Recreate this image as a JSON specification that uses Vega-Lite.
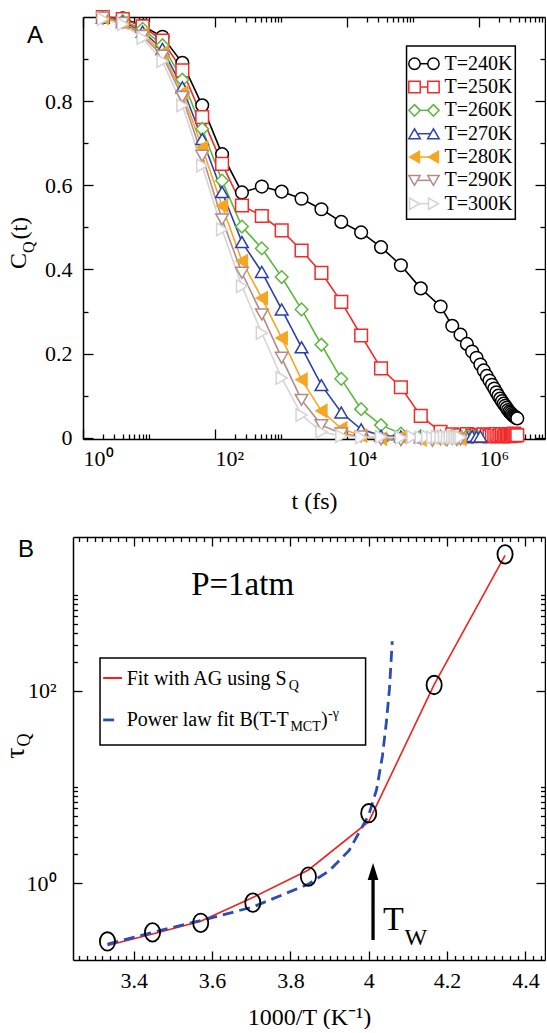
{
  "$schema": "https://vega.github.io/schema/vega-lite/v6.json",
  "padding": {"left": 2, "top": 7, "right": 0, "bottom": 0},
  "spacing": 23,
  "config": {"view": {"stroke": null}, "font": "Liberation Serif"},
  "datasets": {
    "cq": [
      {"T":"T=240K","t":2,"C":1.0},{"T":"T=240K","t":4,"C":0.997},{"T":"T=240K","t":8,"C":0.979},{"T":"T=240K","t":16,"C":0.953},{"T":"T=240K","t":32,"C":0.891},{"T":"T=240K","t":64,"C":0.79},{"T":"T=240K","t":128,"C":0.674},{"T":"T=240K","t":256,"C":0.583},{"T":"T=240K","t":512,"C":0.597},{"T":"T=240K","t":1024,"C":0.585},{"T":"T=240K","t":2048,"C":0.568},{"T":"T=240K","t":4096,"C":0.543},{"T":"T=240K","t":8192,"C":0.513},{"T":"T=240K","t":16384,"C":0.488},{"T":"T=240K","t":32768,"C":0.453},{"T":"T=240K","t":65536,"C":0.41},{"T":"T=240K","t":131072,"C":0.355},{"T":"T=240K","t":262144,"C":0.312},{"T":"T=240K","t":393216,"C":0.266},{"T":"T=240K","t":524288,"C":0.245},{"T":"T=240K","t":655360,"C":0.223},{"T":"T=240K","t":786432,"C":0.205},{"T":"T=240K","t":917504,"C":0.19},{"T":"T=240K","t":1048576,"C":0.174},{"T":"T=240K","t":1179648,"C":0.16},{"T":"T=240K","t":1310720,"C":0.147},{"T":"T=240K","t":1441792,"C":0.136},{"T":"T=240K","t":1572864,"C":0.126},{"T":"T=240K","t":1703936,"C":0.117},{"T":"T=240K","t":1835008,"C":0.108},{"T":"T=240K","t":1966080,"C":0.1},{"T":"T=240K","t":2097152,"C":0.093},{"T":"T=240K","t":2228224,"C":0.087},{"T":"T=240K","t":2359296,"C":0.081},{"T":"T=240K","t":2490368,"C":0.076},{"T":"T=240K","t":2621440,"C":0.071},{"T":"T=240K","t":2752512,"C":0.066},{"T":"T=240K","t":2883584,"C":0.062},{"T":"T=240K","t":3014656,"C":0.059},{"T":"T=240K","t":3145728,"C":0.056},{"T":"T=240K","t":3276800,"C":0.053},{"T":"T=240K","t":3407872,"C":0.051},{"T":"T=240K","t":3538944,"C":0.049},{"T":"T=240K","t":3670016,"C":0.047},{"T":"T=240K","t":3801088,"C":0.046},
      {"T":"T=250K","t":2,"C":1.0},{"T":"T=250K","t":4,"C":0.995},{"T":"T=250K","t":8,"C":0.978},{"T":"T=250K","t":16,"C":0.944},{"T":"T=250K","t":32,"C":0.873},{"T":"T=250K","t":64,"C":0.762},{"T":"T=250K","t":128,"C":0.651},{"T":"T=250K","t":256,"C":0.552},{"T":"T=250K","t":512,"C":0.527},{"T":"T=250K","t":1024,"C":0.493},{"T":"T=250K","t":2048,"C":0.445},{"T":"T=250K","t":4096,"C":0.392},{"T":"T=250K","t":8192,"C":0.323},{"T":"T=250K","t":16384,"C":0.243},{"T":"T=250K","t":32768,"C":0.165},{"T":"T=250K","t":65536,"C":0.12},{"T":"T=250K","t":131072,"C":0.052},{"T":"T=250K","t":262144,"C":0.014},{"T":"T=250K","t":393216,"C":0.008},{"T":"T=250K","t":524288,"C":0.006},{"T":"T=250K","t":655360,"C":0.009},{"T":"T=250K","t":786432,"C":0.005},{"T":"T=250K","t":917504,"C":0.007},{"T":"T=250K","t":1048576,"C":0.004},{"T":"T=250K","t":1179648,"C":0.008},{"T":"T=250K","t":1310720,"C":0.006},{"T":"T=250K","t":1441792,"C":0.003},{"T":"T=250K","t":1572864,"C":0.007},{"T":"T=250K","t":1703936,"C":0.005},{"T":"T=250K","t":1835008,"C":0.009},{"T":"T=250K","t":1966080,"C":0.004},{"T":"T=250K","t":2097152,"C":0.006},{"T":"T=250K","t":2228224,"C":0.008},{"T":"T=250K","t":2359296,"C":0.003},{"T":"T=250K","t":2490368,"C":0.006},{"T":"T=250K","t":2621440,"C":0.009},{"T":"T=250K","t":2752512,"C":0.005},{"T":"T=250K","t":2883584,"C":0.007},{"T":"T=250K","t":3014656,"C":0.004},{"T":"T=250K","t":3145728,"C":0.008},{"T":"T=250K","t":3276800,"C":0.006},{"T":"T=250K","t":3407872,"C":0.01},{"T":"T=250K","t":3538944,"C":0.005},{"T":"T=250K","t":3670016,"C":0.007},{"T":"T=250K","t":3801088,"C":0.006},
      {"T":"T=260K","t":2,"C":0.998},{"T":"T=260K","t":4,"C":0.99},{"T":"T=260K","t":8,"C":0.972},{"T":"T=260K","t":16,"C":0.933},{"T":"T=260K","t":32,"C":0.851},{"T":"T=260K","t":64,"C":0.734},{"T":"T=260K","t":128,"C":0.611},{"T":"T=260K","t":256,"C":0.502},{"T":"T=260K","t":512,"C":0.45},{"T":"T=260K","t":1024,"C":0.382},{"T":"T=260K","t":2048,"C":0.305},{"T":"T=260K","t":4096,"C":0.221},{"T":"T=260K","t":8192,"C":0.14},{"T":"T=260K","t":16384,"C":0.068},{"T":"T=260K","t":32768,"C":0.03},{"T":"T=260K","t":65536,"C":0.01},{"T":"T=260K","t":131072,"C":0.004},{"T":"T=260K","t":262144,"C":0.002},{"T":"T=260K","t":393216,"C":0.005},{"T":"T=260K","t":524288,"C":0.001},{"T":"T=260K","t":655360,"C":0.004},{"T":"T=260K","t":786432,"C":0.002},{"T":"T=260K","t":917504,"C":0.003},
      {"T":"T=270K","t":2,"C":0.998},{"T":"T=270K","t":4,"C":0.988},{"T":"T=270K","t":8,"C":0.965},{"T":"T=270K","t":16,"C":0.924},{"T":"T=270K","t":32,"C":0.833},{"T":"T=270K","t":64,"C":0.71},{"T":"T=270K","t":128,"C":0.584},{"T":"T=270K","t":256,"C":0.465},{"T":"T=270K","t":512,"C":0.394},{"T":"T=270K","t":1024,"C":0.305},{"T":"T=270K","t":2048,"C":0.215},{"T":"T=270K","t":4096,"C":0.125},{"T":"T=270K","t":8192,"C":0.06},{"T":"T=270K","t":16384,"C":0.02},{"T":"T=270K","t":32768,"C":0.005},{"T":"T=270K","t":65536,"C":0.003},{"T":"T=270K","t":131072,"C":0.001},{"T":"T=270K","t":262144,"C":0.004},{"T":"T=270K","t":393216,"C":0.002},{"T":"T=270K","t":524288,"C":0.005},{"T":"T=270K","t":655360,"C":0.001},{"T":"T=270K","t":786432,"C":0.004},{"T":"T=270K","t":917504,"C":0.002},{"T":"T=270K","t":1048576,"C":0.003},
      {"T":"T=280K","t":2,"C":0.998},{"T":"T=280K","t":4,"C":0.987},{"T":"T=280K","t":8,"C":0.96},{"T":"T=280K","t":16,"C":0.915},{"T":"T=280K","t":32,"C":0.82},{"T":"T=280K","t":64,"C":0.69},{"T":"T=280K","t":128,"C":0.551},{"T":"T=280K","t":256,"C":0.42},{"T":"T=280K","t":512,"C":0.332},{"T":"T=280K","t":1024,"C":0.237},{"T":"T=280K","t":2048,"C":0.138},{"T":"T=280K","t":4096,"C":0.064},{"T":"T=280K","t":8192,"C":0.022},{"T":"T=280K","t":16384,"C":0.005},{"T":"T=280K","t":32768,"C":-0.002},{"T":"T=280K","t":65536,"C":0.002},{"T":"T=280K","t":131072,"C":-0.004},{"T":"T=280K","t":196608,"C":0.001},{"T":"T=280K","t":262144,"C":-0.003},{"T":"T=280K","t":327680,"C":0.002},{"T":"T=280K","t":393216,"C":-0.002},{"T":"T=280K","t":458752,"C":0.001},{"T":"T=280K","t":524288,"C":-0.003},
      {"T":"T=290K","t":2,"C":0.998},{"T":"T=290K","t":4,"C":0.986},{"T":"T=290K","t":8,"C":0.955},{"T":"T=290K","t":16,"C":0.908},{"T":"T=290K","t":32,"C":0.81},{"T":"T=290K","t":64,"C":0.67},{"T":"T=290K","t":128,"C":0.519},{"T":"T=290K","t":256,"C":0.392},{"T":"T=290K","t":512,"C":0.293},{"T":"T=290K","t":1024,"C":0.19},{"T":"T=290K","t":2048,"C":0.09},{"T":"T=290K","t":4096,"C":0.03},{"T":"T=290K","t":8192,"C":0.01},{"T":"T=290K","t":16384,"C":0.003},{"T":"T=290K","t":32768,"C":-0.004},{"T":"T=290K","t":65536,"C":-0.006},{"T":"T=290K","t":131072,"C":-0.003},{"T":"T=290K","t":196608,"C":-0.007},{"T":"T=290K","t":262144,"C":-0.004},{"T":"T=290K","t":327680,"C":-0.006},{"T":"T=290K","t":393216,"C":-0.003},{"T":"T=290K","t":458752,"C":-0.005},{"T":"T=290K","t":524288,"C":-0.004},
      {"T":"T=300K","t":2,"C":0.995},{"T":"T=300K","t":4,"C":0.983},{"T":"T=300K","t":8,"C":0.95},{"T":"T=300K","t":16,"C":0.895},{"T":"T=300K","t":32,"C":0.79},{"T":"T=300K","t":64,"C":0.647},{"T":"T=300K","t":128,"C":0.495},{"T":"T=300K","t":256,"C":0.36},{"T":"T=300K","t":512,"C":0.249},{"T":"T=300K","t":1024,"C":0.142},{"T":"T=300K","t":2048,"C":0.054},{"T":"T=300K","t":4096,"C":0.014},{"T":"T=300K","t":8192,"C":0.004},{"T":"T=300K","t":16384,"C":0.001},{"T":"T=300K","t":32768,"C":0.002},{"T":"T=300K","t":65536,"C":0.0},{"T":"T=300K","t":98304,"C":0.002},{"T":"T=300K","t":131072,"C":0.001},{"T":"T=300K","t":163840,"C":0.003},{"T":"T=300K","t":196608,"C":0.0},{"T":"T=300K","t":229376,"C":0.002},{"T":"T=300K","t":262144,"C":0.001},{"T":"T=300K","t":294912,"C":0.003},{"T":"T=300K","t":327680,"C":0.0},{"T":"T=300K","t":360448,"C":0.002},{"T":"T=300K","t":393216,"C":0.001},{"T":"T=300K","t":425984,"C":0.002},{"T":"T=300K","t":458752,"C":0.0},{"T":"T=300K","t":491520,"C":0.002},{"T":"T=300K","t":524288,"C":0.001}
    ],
    "leg": [{"T":"T=240K"},{"T":"T=250K"},{"T":"T=260K"},{"T":"T=270K"},{"T":"T=280K"},{"T":"T=290K"},{"T":"T=300K"}],
    "tau": [
      {"x":3.333,"tau":0.247},{"x":3.448,"tau":0.307},{"x":3.571,"tau":0.386},{"x":3.704,"tau":0.626},{"x":3.846,"tau":1.17},{"x":4.0,"tau":5.33},{"x":4.167,"tau":115},{"x":4.348,"tau":2630}
    ],
    "ag": [
      {"x":3.333,"tau":0.224},{"x":3.448,"tau":0.295},{"x":3.571,"tau":0.401},{"x":3.704,"tau":0.707},{"x":3.846,"tau":1.37},{"x":4.0,"tau":4.35},{"x":4.167,"tau":116},{"x":4.348,"tau":2570}
    ],
    "pl": [
      {"x":3.333,"tau":0.232},{"x":3.448,"tau":0.307},{"x":3.571,"tau":0.408},{"x":3.704,"tau":0.564},{"x":3.846,"tau":0.976},{"x":3.9,"tau":1.35},{"x":3.95,"tau":2.19},{"x":4.0,"tau":5.11},{"x":4.02,"tau":9.37},{"x":4.035,"tau":21},{"x":4.045,"tau":47.2},{"x":4.053,"tau":106},{"x":4.06,"tau":328}
    ]
  },
  "vconcat": [
    {
      "width": 472,
      "height": 422,
      "resolve": {"scale": {"y": "independent"}, "axis": {"x": "independent", "y": "independent"}},
      "layer": [
        {
          "data": {"name": "cq"},
          "resolve": {"scale": {"x": "shared", "y": "shared"}, "axis": {"x": "independent", "y": "independent"}},
          "layer": [
            {
              "mark": {"type": "line", "strokeWidth": 1.6},
              "encoding": {
                "x": {"field": "t", "type": "quantitative", "scale": {"type": "log", "domain": [1, 10000000], "range": [10, 472], "nice": false},
                  "axis": {"orient": "bottom", "values": [1, 100, 10000, 1000000], "labelExpr": "datum.value == 1 ? '10⁰' : datum.value == 100 ? '10²' : datum.value == 10000 ? '10⁴' : '10⁶'", "labelAlign": "left", "labelDx": -11, "labelFlush": false, "labelOverlap": false, "ticks": false, "grid": false, "domain": true, "domainColor": "black", "domainWidth": 1.5, "labelFont": "Liberation Serif", "labelFontSize": 22, "labelColor": "black", "labelPadding": 9, "title": "t (fs)", "titleFont": "Liberation Serif", "titleFontSize": 24, "titleFontWeight": "normal", "titleColor": "black", "titlePadding": 20}},
                "y": {"field": "C", "type": "quantitative", "scale": {"domain": [-0.003, 1], "nice": false, "zero": false},
                  "axis": {"orient": "left", "offset": -10, "values": [0, 0.2, 0.4, 0.6, 0.8], "format": ".1~f", "labelFlush": false, "ticks": false, "grid": false, "domain": true, "domainColor": "black", "domainWidth": 1.5, "labelFont": "Liberation Serif", "labelFontSize": 22, "labelColor": "black", "labelPadding": 11, "title": null}},
                "stroke": {"field": "T", "type": "nominal", "scale": {"domain": ["T=240K","T=250K","T=260K","T=270K","T=280K","T=290K","T=300K"], "range": ["#000000","#f22a2a","#5cb83e","#2b40a8","#f5a623","#b48a86","#d4d4d4"]}, "legend": null}
              }
            },
            {
              "mark": {"type": "point", "strokeWidth": 1.5, "size": 160, "opacity": 1},
              "encoding": {
                "x": {"field": "t", "type": "quantitative", "axis": null},
                "y": {"field": "C", "type": "quantitative", "axis": null},
                "shape": {"field": "T", "type": "nominal", "scale": {"domain": ["T=240K","T=250K","T=260K","T=270K","T=280K","T=290K","T=300K"], "range": ["circle","square","diamond","triangle-up","triangle-left","triangle-down","triangle-right"]}, "legend": null},
                "stroke": {"field": "T", "type": "nominal", "legend": null},
                "fill": {"field": "T", "type": "nominal", "scale": {"domain": ["T=240K","T=250K","T=260K","T=270K","T=280K","T=290K","T=300K"], "range": ["#ffffff","#ffffff","#ffffff","#ffffff","#f5a623","#ffffff","#ffffff"]}, "legend": null}
              }
            },
            {
              "mark": {"type": "point", "opacity": 0},
              "encoding": {
                "x": {"field": "t", "type": "quantitative", "axis": {"orient": "bottom", "values": [1, 100, 10000, 1000000], "labels": false, "domain": false, "grid": false, "ticks": true, "tickSize": -10, "tickColor": "black", "tickWidth": 1.3, "title": null}},
                "y": {"field": "C", "type": "quantitative", "axis": {"orient": "left", "offset": -10, "values": [0, 0.2, 0.4, 0.6, 0.8], "labels": false, "domain": false, "grid": false, "ticks": true, "tickSize": -10, "tickColor": "black", "tickWidth": 1.3, "title": null}}
              }
            },
            {
              "mark": {"type": "point", "opacity": 0},
              "encoding": {
                "x": {"field": "t", "type": "quantitative", "axis": {"orient": "bottom", "values": [2,3,4,5,6,7,8,9,10,200,300,400,500,600,700,800,900,1000,20000,30000,40000,50000,60000,70000,80000,90000,100000,2000000,3000000,4000000,5000000,6000000,7000000,8000000,9000000], "labels": false, "domain": false, "grid": false, "ticks": true, "tickSize": -5, "tickColor": "black", "tickWidth": 1.3, "title": null}},
                "y": {"field": "C", "type": "quantitative", "axis": {"orient": "left", "offset": -10, "values": [0.1, 0.3, 0.5, 0.7, 0.9], "labels": false, "domain": false, "grid": false, "ticks": true, "tickSize": -5, "tickColor": "black", "tickWidth": 1.3, "title": null}}
              }
            },
            {
              "mark": {"type": "point", "opacity": 0},
              "encoding": {
                "x": {"field": "t", "type": "quantitative", "axis": {"orient": "top", "values": [1, 100, 10000, 1000000], "labels": false, "domain": true, "domainColor": "black", "domainWidth": 1.5, "grid": false, "ticks": true, "tickSize": -10, "tickColor": "black", "tickWidth": 1.3, "title": null}},
                "y": {"field": "C", "type": "quantitative", "axis": {"orient": "right", "values": [0, 0.2, 0.4, 0.6, 0.8], "labels": false, "domain": true, "domainColor": "black", "domainWidth": 1.5, "grid": false, "ticks": true, "tickSize": -10, "tickColor": "black", "tickWidth": 1.3, "title": null}}
              }
            },
            {
              "mark": {"type": "point", "opacity": 0},
              "encoding": {
                "x": {"field": "t", "type": "quantitative", "axis": {"orient": "top", "values": [2,3,4,5,6,7,8,9,10,200,300,400,500,600,700,800,900,1000,20000,30000,40000,50000,60000,70000,80000,90000,100000,2000000,3000000,4000000,5000000,6000000,7000000,8000000,9000000], "labels": false, "domain": false, "grid": false, "ticks": true, "tickSize": -5, "tickColor": "black", "tickWidth": 1.3, "title": null}},
                "y": {"field": "C", "type": "quantitative", "axis": {"orient": "right", "values": [0.1, 0.3, 0.5, 0.7, 0.9], "labels": false, "domain": false, "grid": false, "ticks": true, "tickSize": -5, "tickColor": "black", "tickWidth": 1.3, "title": null}}
              }
            },
            {
              "data": {"values": [{}]},
              "mark": {"type": "rect", "fill": "white", "stroke": "black", "strokeWidth": 1.5},
              "encoding": {"x": {"datum": 79800, "type": "quantitative", "axis": null}, "x2": {"datum": 3550000}, "y": {"datum": 0.931, "type": "quantitative", "axis": null}, "y2": {"datum": 0.5195}}
            },
            {
              "data": {"values": [{}]},
              "mark": {"type": "text", "text": "A", "font": "Liberation Sans", "fontSize": 24, "align": "center", "baseline": "middle", "color": "black"},
              "encoding": {"x": {"datum": 0.1875, "type": "quantitative", "axis": null}, "y": {"datum": 0.955, "type": "quantitative", "axis": null}}
            },
            {
              "data": {"values": [{}]},
              "mark": {"type": "text", "text": "C", "font": "Liberation Serif", "fontSize": 24, "angle": 270, "align": "center", "baseline": "middle", "color": "black"},
              "encoding": {"x": {"datum": 0.107, "type": "quantitative", "axis": null}, "y": {"datum": 0.42, "type": "quantitative", "axis": null}}
            },
            {
              "data": {"values": [{}]},
              "mark": {"type": "text", "text": "Q", "font": "Liberation Serif", "fontSize": 16, "angle": 270, "align": "center", "baseline": "middle", "color": "black"},
              "encoding": {"x": {"datum": 0.152, "type": "quantitative", "axis": null}, "y": {"datum": 0.453, "type": "quantitative", "axis": null}}
            },
            {
              "data": {"values": [{}]},
              "mark": {"type": "text", "text": "(t)", "font": "Liberation Serif", "fontSize": 24, "angle": 270, "align": "center", "baseline": "middle", "color": "black"},
              "encoding": {"x": {"datum": 0.111, "type": "quantitative", "axis": null}, "y": {"datum": 0.498, "type": "quantitative", "axis": null}}
            }
          ]
        },
        {
          "data": {"name": "leg"},
          "encoding": {
            "y": {"field": "T", "type": "nominal", "scale": {"type": "point", "domain": ["T=240K","T=250K","T=260K","T=270K","T=280K","T=290K","T=300K"], "range": [46.7, 186.7], "padding": 0}, "axis": null}
          },
          "layer": [
            {
              "mark": {"type": "point", "shape": "M-1,0L1,0", "size": 361, "strokeWidth": 1.5, "filled": false, "opacity": 1},
              "encoding": {
                "x": {"datum": 146700, "type": "quantitative", "axis": null},
                "stroke": {"field": "T", "type": "nominal", "legend": null}
              }
            },
            {
              "mark": {"type": "point", "strokeWidth": 1.5, "size": 130, "opacity": 1},
              "encoding": {
                "x": {"datum": 105400, "type": "quantitative", "axis": null},
                "shape": {"field": "T", "type": "nominal", "legend": null},
                "stroke": {"field": "T", "type": "nominal", "legend": null},
                "fill": {"field": "T", "type": "nominal", "legend": null}
              }
            },
            {
              "mark": {"type": "point", "strokeWidth": 1.5, "size": 130, "opacity": 1},
              "encoding": {
                "x": {"datum": 204000, "type": "quantitative", "axis": null},
                "shape": {"field": "T", "type": "nominal", "legend": null},
                "stroke": {"field": "T", "type": "nominal", "legend": null},
                "fill": {"field": "T", "type": "nominal", "legend": null}
              }
            },
            {
              "mark": {"type": "text", "font": "Liberation Serif", "fontSize": 20, "align": "left", "baseline": "middle", "color": "black"},
              "encoding": {
                "x": {"datum": 299900, "type": "quantitative", "axis": null},
                "text": {"field": "T", "type": "nominal"}
              }
            }
          ]
        }
      ]
    },
    {
      "width": 472,
      "height": 423,
      "resolve": {"scale": {"x": "shared", "y": "shared"}, "axis": {"x": "independent", "y": "independent"}},
      "layer": [
        {
          "data": {"name": "ag"},
          "mark": {"type": "line", "color": "#f22020", "strokeWidth": 1.6},
          "encoding": {
            "x": {"field": "x", "type": "quantitative", "scale": {"domain": [3.245, 4.45], "nice": false, "zero": false},
              "axis": {"orient": "bottom", "values": [3.4, 3.6, 3.8, 4, 4.2, 4.4], "format": "~g", "labelFlush": false, "ticks": false, "grid": false, "domain": true, "domainColor": "black", "domainWidth": 1.5, "labelFont": "Liberation Serif", "labelFontSize": 22, "labelColor": "black", "labelPadding": 10, "title": "1000/T (K⁻¹)", "titleFont": "Liberation Serif", "titleFontSize": 24, "titleFontWeight": "normal", "titleColor": "black", "titlePadding": 14}},
            "y": {"field": "tau", "type": "quantitative", "scale": {"type": "log", "domain": [0.1585, 3981], "nice": false},
              "axis": {"orient": "left", "values": [1, 100], "labelExpr": "datum.value == 1 ? '10⁰' : '10²'", "labelFlush": false, "ticks": false, "grid": false, "domain": true, "domainColor": "black", "domainWidth": 1.5, "labelFont": "Liberation Serif", "labelFontSize": 22, "labelColor": "black", "labelPadding": 17, "title": null}}
          }
        },
        {
          "data": {"name": "pl"},
          "mark": {"type": "line", "color": "#2b4db3", "strokeWidth": 2.8, "strokeDash": [11, 6]},
          "encoding": {
            "x": {"field": "x", "type": "quantitative", "axis": null},
            "y": {"field": "tau", "type": "quantitative", "axis": null}
          }
        },
        {
          "data": {"name": "tau"},
          "mark": {"type": "point", "shape": "M0,-1A0.82,1 0 1,1 0,1A0.82,1 0 1,1 0,-1Z", "size": 342, "filled": false, "color": "black", "strokeWidth": 1.8, "opacity": 1},
          "encoding": {
            "x": {"field": "x", "type": "quantitative", "axis": null},
            "y": {"field": "tau", "type": "quantitative", "axis": null}
          }
        },
        {
          "data": {"name": "ag"},
          "mark": {"type": "point", "opacity": 0},
          "encoding": {
            "x": {"field": "x", "type": "quantitative", "axis": {"orient": "bottom", "values": [3.4, 3.6, 3.8, 4, 4.2, 4.4], "labels": false, "domain": false, "grid": false, "ticks": true, "tickSize": -9, "tickColor": "black", "tickWidth": 1.3, "title": null}},
            "y": {"field": "tau", "type": "quantitative", "axis": {"orient": "left", "values": [1, 100], "labels": false, "domain": false, "grid": false, "ticks": true, "tickSize": -9, "tickColor": "black", "tickWidth": 1.3, "title": null}}
          }
        },
        {
          "data": {"name": "ag"},
          "mark": {"type": "point", "opacity": 0},
          "encoding": {
            "x": {"field": "x", "type": "quantitative", "axis": {"orient": "bottom", "values": [3.26,3.28,3.3,3.32,3.34,3.36,3.38,3.42,3.44,3.46,3.48,3.5,3.52,3.54,3.56,3.58,3.62,3.64,3.66,3.68,3.7,3.72,3.74,3.76,3.78,3.82,3.84,3.86,3.88,3.9,3.92,3.94,3.96,3.98,4.02,4.04,4.06,4.08,4.1,4.12,4.14,4.16,4.18,4.22,4.24,4.26,4.28,4.3,4.32,4.34,4.36,4.38,4.42,4.44], "labels": false, "domain": false, "grid": false, "ticks": true, "tickSize": -4.5, "tickColor": "black", "tickWidth": 1.3, "title": null}},
            "y": {"field": "tau", "type": "quantitative", "axis": {"orient": "left", "values": [2,3,4,5,6,7,8,9,10,200,300,400,500,600,700,800,900,1000], "labels": false, "domain": false, "grid": false, "ticks": true, "tickSize": -4.5, "tickColor": "black", "tickWidth": 1.3, "title": null}}
          }
        },
        {
          "data": {"name": "ag"},
          "mark": {"type": "point", "opacity": 0},
          "encoding": {
            "x": {"field": "x", "type": "quantitative", "axis": {"orient": "top", "values": [3.4, 3.6, 3.8, 4, 4.2, 4.4], "labels": false, "domain": true, "domainColor": "black", "domainWidth": 1.5, "grid": false, "ticks": true, "tickSize": -9, "tickColor": "black", "tickWidth": 1.3, "title": null}},
            "y": {"field": "tau", "type": "quantitative", "axis": {"orient": "right", "values": [1, 100], "labels": false, "domain": true, "domainColor": "black", "domainWidth": 1.5, "grid": false, "ticks": true, "tickSize": -9, "tickColor": "black", "tickWidth": 1.3, "title": null}}
          }
        },
        {
          "data": {"name": "ag"},
          "mark": {"type": "point", "opacity": 0},
          "encoding": {
            "x": {"field": "x", "type": "quantitative", "axis": {"orient": "top", "values": [3.26,3.28,3.3,3.32,3.34,3.36,3.38,3.42,3.44,3.46,3.48,3.5,3.52,3.54,3.56,3.58,3.62,3.64,3.66,3.68,3.7,3.72,3.74,3.76,3.78,3.82,3.84,3.86,3.88,3.9,3.92,3.94,3.96,3.98,4.02,4.04,4.06,4.08,4.1,4.12,4.14,4.16,4.18,4.22,4.24,4.26,4.28,4.3,4.32,4.34,4.36,4.38,4.42,4.44], "labels": false, "domain": false, "grid": false, "ticks": true, "tickSize": -4.5, "tickColor": "black", "tickWidth": 1.3, "title": null}},
            "y": {"field": "tau", "type": "quantitative", "axis": {"orient": "right", "values": [2,3,4,5,6,7,8,9,10,200,300,400,500,600,700,800,900,1000], "labels": false, "domain": false, "grid": false, "ticks": true, "tickSize": -4.5, "tickColor": "black", "tickWidth": 1.3, "title": null}}
          }
        },
        {
          "data": {"values": [{}]},
          "mark": {"type": "rule", "color": "black", "strokeWidth": 3.3},
          "encoding": {"x": {"datum": 4.011, "type": "quantitative", "axis": null}, "y": {"datum": 0.256, "type": "quantitative", "axis": null}, "y2": {"datum": 1.3}}
        },
        {
          "data": {"values": [{}]},
          "mark": {"type": "point", "shape": "M0,-1L0.63,1L-0.63,1Z", "size": 289, "filled": true, "color": "black", "opacity": 1},
          "encoding": {"x": {"datum": 4.011, "type": "quantitative", "axis": null}, "y": {"datum": 1.32, "type": "quantitative", "axis": null}}
        },
        {
          "data": {"values": [{}]},
          "mark": {"type": "rect", "fill": "white", "stroke": "black", "strokeWidth": 1.5},
          "encoding": {"x": {"datum": 3.314, "type": "quantitative", "axis": null}, "x2": {"datum": 3.992}, "y": {"datum": 219, "type": "quantitative", "axis": null}, "y2": {"datum": 27.3}}
        },
        {
          "data": {"values": [{}]},
          "mark": {"type": "rule", "color": "#f22020", "strokeWidth": 2},
          "encoding": {"x": {"datum": 3.322, "type": "quantitative", "axis": null}, "x2": {"datum": 3.37}, "y": {"datum": 136, "type": "quantitative", "axis": null}}
        },
        {
          "data": {"values": [{}]},
          "mark": {"type": "rule", "color": "#2b4db3", "strokeWidth": 2.8, "strokeDash": [11, 8]},
          "encoding": {"x": {"datum": 3.322, "type": "quantitative", "axis": null}, "x2": {"datum": 3.37}, "y": {"datum": 49.8, "type": "quantitative", "axis": null}}
        },
        {
          "data": {"values": [{}]},
          "mark": {"type": "text", "text": "Fit with AG using S", "font": "Liberation Serif", "fontSize": 20, "align": "left", "baseline": "alphabetic", "color": "black"},
          "encoding": {"x": {"datum": 3.382, "type": "quantitative", "axis": null}, "y": {"datum": 115, "type": "quantitative", "axis": null}}
        },
        {
          "data": {"values": [{}]},
          "mark": {"type": "text", "text": "Q", "font": "Liberation Serif", "fontSize": 14, "align": "left", "baseline": "alphabetic", "color": "black"},
          "encoding": {"x": {"datum": 3.796, "type": "quantitative", "axis": null}, "y": {"datum": 102, "type": "quantitative", "axis": null}}
        },
        {
          "data": {"values": [{}]},
          "mark": {"type": "text", "text": "Power law fit B(T-T", "font": "Liberation Serif", "fontSize": 20, "align": "left", "baseline": "alphabetic", "color": "black"},
          "encoding": {"x": {"datum": 3.382, "type": "quantitative", "axis": null}, "y": {"datum": 43, "type": "quantitative", "axis": null}}
        },
        {
          "data": {"values": [{}]},
          "mark": {"type": "text", "text": "MCT", "font": "Liberation Serif", "fontSize": 14, "align": "left", "baseline": "alphabetic", "color": "black"},
          "encoding": {"x": {"datum": 3.8, "type": "quantitative", "axis": null}, "y": {"datum": 38.2, "type": "quantitative", "axis": null}}
        },
        {
          "data": {"values": [{}]},
          "mark": {"type": "text", "text": ")", "font": "Liberation Serif", "fontSize": 20, "align": "left", "baseline": "alphabetic", "color": "black"},
          "encoding": {"x": {"datum": 3.878, "type": "quantitative", "axis": null}, "y": {"datum": 43, "type": "quantitative", "axis": null}}
        },
        {
          "data": {"values": [{}]},
          "mark": {"type": "text", "text": "-γ", "font": "Liberation Serif", "fontSize": 14, "align": "left", "baseline": "alphabetic", "color": "black"},
          "encoding": {"x": {"datum": 3.896, "type": "quantitative", "axis": null}, "y": {"datum": 52.1, "type": "quantitative", "axis": null}}
        },
        {
          "data": {"values": [{}]},
          "mark": {"type": "text", "text": "P=1atm", "font": "Liberation Serif", "fontSize": 33, "align": "center", "baseline": "alphabetic", "color": "black"},
          "encoding": {"x": {"datum": 3.678, "type": "quantitative", "axis": null}, "y": {"datum": 993, "type": "quantitative", "axis": null}}
        },
        {
          "data": {"values": [{}]},
          "mark": {"type": "text", "text": "T", "font": "Liberation Serif", "fontSize": 34, "align": "center", "baseline": "alphabetic", "color": "black"},
          "encoding": {"x": {"datum": 4.063, "type": "quantitative", "axis": null}, "y": {"datum": 0.325, "type": "quantitative", "axis": null}}
        },
        {
          "data": {"values": [{}]},
          "mark": {"type": "text", "text": "W", "font": "Liberation Serif", "fontSize": 24, "align": "center", "baseline": "alphabetic", "color": "black"},
          "encoding": {"x": {"datum": 4.12, "type": "quantitative", "axis": null}, "y": {"datum": 0.225, "type": "quantitative", "axis": null}}
        },
        {
          "data": {"values": [{}]},
          "mark": {"type": "text", "text": "τ", "font": "Liberation Serif", "fontSize": 28, "angle": 270, "align": "center", "baseline": "middle", "color": "black"},
          "encoding": {"x": {"datum": 3.1005, "type": "quantitative", "axis": null}, "y": {"datum": 22.5, "type": "quantitative", "axis": null}}
        },
        {
          "data": {"values": [{}]},
          "mark": {"type": "text", "text": "Q", "font": "Liberation Serif", "fontSize": 18, "angle": 270, "align": "center", "baseline": "middle", "color": "black"},
          "encoding": {"x": {"datum": 3.1225, "type": "quantitative", "axis": null}, "y": {"datum": 30.8, "type": "quantitative", "axis": null}}
        },
        {
          "data": {"values": [{}]},
          "mark": {"type": "text", "text": "B", "font": "Liberation Sans", "fontSize": 24, "align": "center", "baseline": "middle", "color": "black"},
          "encoding": {"x": {"datum": 3.125, "type": "quantitative", "axis": null}, "y": {"datum": 2918, "type": "quantitative", "axis": null}}
        }
      ]
    }
  ]
}
